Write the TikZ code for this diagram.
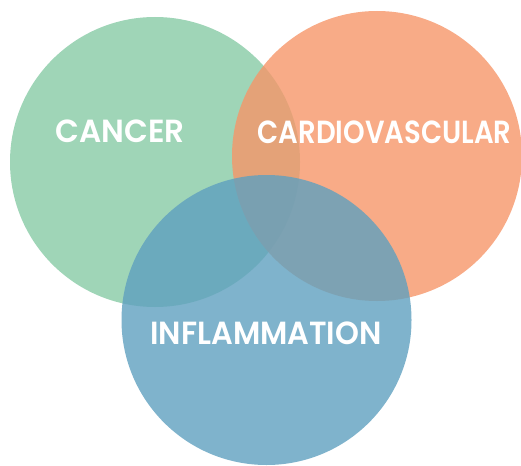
\documentclass[tikz,border=0pt]{standalone}
\usepackage{fontspec}
\newfontfamily\vennfont{Poppins SemiBold}
\usepackage{tikz}
\usepackage{xcolor}
\usepackage{graphicx}
\definecolor{cancergreen}{RGB}{135,202,165}
\definecolor{cardioorange}{RGB}{246,150,105}
\definecolor{inflamblue}{RGB}{95,160,191}
\newcommand{\venntext}[2]{\scalebox{#1}[1]{#2}}
\tikzset{
    venn-circle/.style = {circle, minimum size=290pt, inner sep=0pt, fill opacity=0.8},
    venn-label/.style = {text=white, font=\vennfont\fontsize{32}{32}\selectfont, inner sep=0pt},
}

\begin{document}
\begin{tikzpicture}[x=1pt, y=-1pt]
\useasboundingbox (0,0) rectangle (521,465);
\node [venn-circle, fill=cancergreen] (cancer) at (155,162) {};
\node [venn-circle, fill=cardioorange] (cardio) at (377,156) {};
\node [venn-circle, fill=inflamblue] (inflam) at (266.5,320) {};
\node [venn-label] (cancer-title) at (120,131) {\venntext{0.97}{CANCER}};
\node [venn-label] (cardio-title) at (384.5,132) {\venntext{0.86}{CARDIOVASCULAR}};
\node [venn-label] (inflam-title) at (266,333) {\venntext{0.95}{INFLAMMATION}};
\end{tikzpicture}
\end{document}
